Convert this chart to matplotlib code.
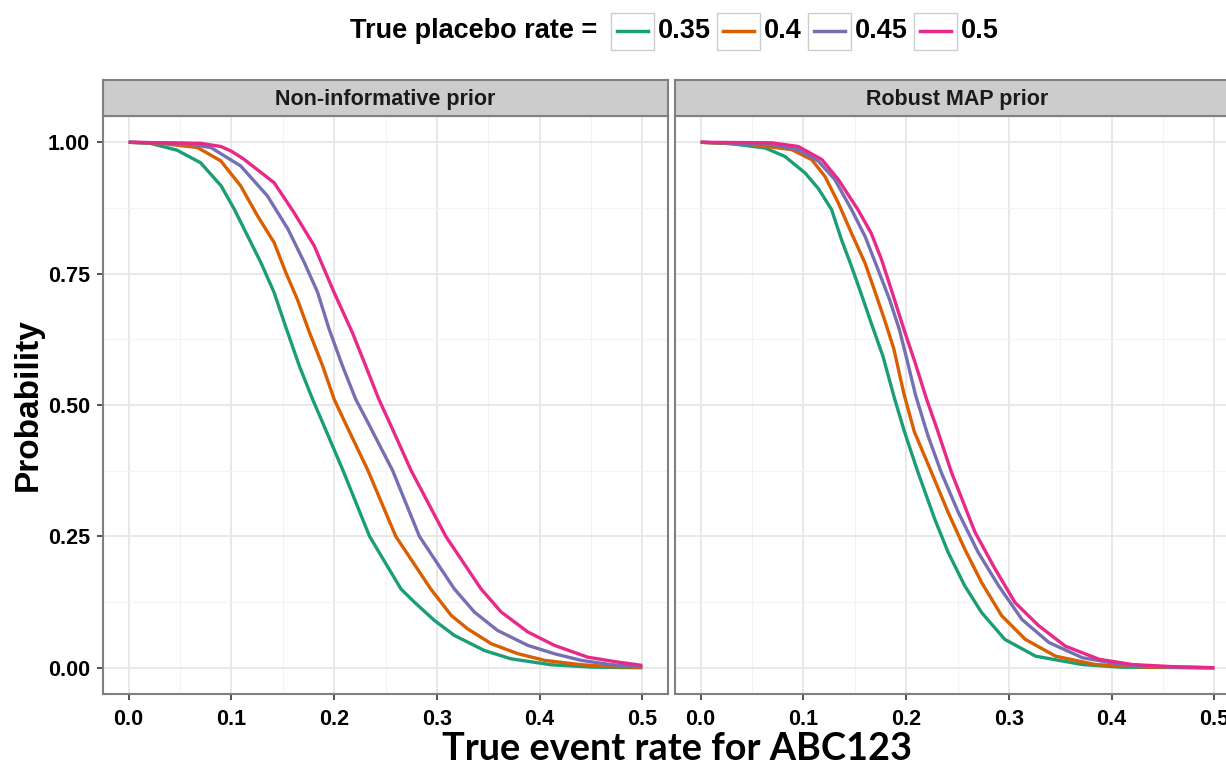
import matplotlib
matplotlib.use("Agg")
import matplotlib.pyplot as plt
from matplotlib.patches import Rectangle
from matplotlib.lines import Line2D
from matplotlib.ticker import MultipleLocator, FixedLocator

# ---------------- data ----------------
panels = ["Non-informative prior", "Robust MAP prior"]
rates = ["0.35", "0.4", "0.45", "0.5"]
colors = ["#1B9E77", "#D95F02", "#7570B3", "#E7298A"]

x_ticks = [0.0, 0.1, 0.2, 0.3, 0.4, 0.5]
y_ticks = [0.00, 0.25, 0.50, 0.75, 1.00]

# Non-informative prior
ni_x_035 = [0, 0.021, 0.047, 0.070, 0.090, 0.1027, 0.1157, 0.1287, 0.1416, 0.153, 0.166, 0.179,
            0.1887, 0.2087, 0.2345, 0.265, 0.278, 0.2976, 0.317, 0.346, 0.372, 0.411, 0.45, 0.48, 0.5]
ni_p_035 = [1.0, 0.998, 0.985, 0.961, 0.917, 0.873, 0.822, 0.771, 0.714, 0.648, 0.575, 0.511,
            0.467, 0.375, 0.25, 0.150, 0.125, 0.09, 0.0615, 0.033, 0.017, 0.0057, 0.0013, 0.0003, 0.0]
ni_x_040 = [0, 0.031, 0.067, 0.0897, 0.109, 0.1254, 0.1416, 0.153, 0.1644, 0.176, 0.1887, 0.2,
            0.211, 0.233, 0.260, 0.294, 0.314, 0.33, 0.353, 0.379, 0.405, 0.4405, 0.47, 0.5]
ni_p_040 = [1.0, 0.998, 0.99, 0.9645, 0.917, 0.86, 0.809, 0.752, 0.70, 0.638, 0.575, 0.511,
            0.465, 0.375, 0.25, 0.150, 0.0995, 0.074, 0.0456, 0.0266, 0.014, 0.0057, 0.002, 0.001]
ni_x_045 = [0, 0.054, 0.080, 0.109, 0.135, 0.155, 0.171, 0.184, 0.195, 0.208, 0.221, 0.232,
            0.257, 0.283, 0.317, 0.3365, 0.359, 0.3886, 0.4145, 0.4405, 0.47, 0.5]
ni_p_045 = [1.0, 0.998, 0.99, 0.955, 0.898, 0.835, 0.771, 0.714, 0.645, 0.575, 0.511, 0.47,
            0.375, 0.25, 0.150, 0.106, 0.071, 0.0425, 0.0266, 0.014, 0.0057, 0.002]
ni_x_050 = [0, 0.07, 0.0897, 0.1, 0.112, 0.1416, 0.161, 0.1806, 0.200, 0.2177, 0.2306, 0.2435, 0.255,
            0.275, 0.3087, 0.343, 0.3626, 0.3886, 0.4145, 0.447, 0.476, 0.5]
ni_p_050 = [1.0, 0.998, 0.992, 0.983, 0.968, 0.923, 0.866, 0.803, 0.714, 0.638, 0.575, 0.511, 0.462,
            0.375, 0.25, 0.150, 0.106, 0.068, 0.0425, 0.020, 0.0108, 0.0044]

# Robust MAP prior
rm_x_035 = [0, 0.029, 0.063, 0.082, 0.1016, 0.1145, 0.1274, 0.137, 0.1468, 0.156, 0.166, 0.1774,
            0.1886, 0.1984, 0.2114, 0.2278, 0.2408, 0.257, 0.2735, 0.296, 0.326, 0.3716, 0.41, 0.5]
rm_p_035 = [1.0, 0.9975, 0.989, 0.973, 0.9416, 0.912, 0.872, 0.815, 0.764, 0.713, 0.656, 0.593,
            0.513, 0.449, 0.3726, 0.283, 0.22, 0.156, 0.105, 0.054, 0.022, 0.006, 0.001, 0.0]
rm_x_040 = [0, 0.05, 0.0887, 0.108, 0.121, 0.134, 0.1468, 0.160, 0.169, 0.179, 0.188, 0.198,
            0.208, 0.2245, 0.2408, 0.257, 0.2735, 0.293, 0.316, 0.3454, 0.3846, 0.437, 0.5]
rm_p_040 = [1.0, 0.9956, 0.986, 0.967, 0.935, 0.8845, 0.827, 0.77, 0.7196, 0.662, 0.607, 0.52,
            0.449, 0.3726, 0.296, 0.226, 0.162, 0.099, 0.054, 0.022, 0.006, 0.001, 0.0]
rm_x_045 = [0, 0.069, 0.095, 0.1145, 0.1306, 0.1468, 0.160, 0.1726, 0.184, 0.1935, 0.2016, 0.209,
            0.221, 0.234, 0.2507, 0.270, 0.290, 0.3127, 0.339, 0.3716, 0.41, 0.4565, 0.5]
rm_p_045 = [1.0, 0.9956, 0.986, 0.964, 0.929, 0.872, 0.821, 0.758, 0.70, 0.643, 0.58, 0.52,
            0.443, 0.3726, 0.296, 0.22, 0.156, 0.092, 0.048, 0.019, 0.006, 0.001, 0.0]
rm_x_050 = [0, 0.069, 0.095, 0.118, 0.134, 0.153, 0.166, 0.176, 0.1855, 0.198, 0.208, 0.2196,
            0.231, 0.244, 0.267, 0.2866, 0.306, 0.329, 0.355, 0.388, 0.4206, 0.46, 0.5]
rm_p_050 = [1.0, 0.999, 0.992, 0.967, 0.929, 0.872, 0.827, 0.777, 0.72, 0.643, 0.585, 0.513,
            0.449, 0.3726, 0.258, 0.188, 0.124, 0.08, 0.041, 0.016, 0.006, 0.002, 0.0]

panel_data = [
    [(ni_x_035, ni_p_035), (ni_x_040, ni_p_040), (ni_x_045, ni_p_045), (ni_x_050, ni_p_050)],
    [(rm_x_035, rm_p_035), (rm_x_040, rm_p_040), (rm_x_045, rm_p_045), (rm_x_050, rm_p_050)],
]

# ---------------- figure ----------------
W, H = 1226, 768
plt.rcParams['font.family'] = ['Liberation Sans', 'DejaVu Sans']
fig = plt.figure(figsize=(W / 100, H / 100), dpi=100)

def px_box(l, t, r, b):
    return [l / W, 1 - b / H, (r - l) / W, (b - t) / H]

panel_boxes = [(103, 116, 668, 694), (675, 116, 1240, 694)]
strip_h = 36
border_col = "#808080"

for i, (l, t, r, b) in enumerate(panel_boxes):
    ax = fig.add_axes(px_box(l, t, r, b))
    ax.set_xlim(-0.025, 0.525)
    ax.set_ylim(-0.05, 1.05)
    ax.xaxis.set_major_locator(FixedLocator(x_ticks))
    ax.xaxis.set_minor_locator(MultipleLocator(0.05))
    ax.yaxis.set_major_locator(FixedLocator(y_ticks))
    ax.yaxis.set_minor_locator(MultipleLocator(0.125))
    ax.grid(which='major', color='#E6E6E6', lw=1.3)
    ax.grid(which='minor', color='#F3F3F3', lw=0.8)
    ax.set_axisbelow(True)
    for (xs, ps), c in zip(panel_data[i], colors):
        ax.plot(xs, ps, color=c, lw=2.4, solid_joinstyle='round', solid_capstyle='butt')
    for sp in ax.spines.values():
        sp.set_color(border_col)
        sp.set_linewidth(1.5)
    ax.tick_params(which='minor', length=0)
    ax.tick_params(which='major', length=4.5, width=1.2, color='#333333', pad=5,
                   labelsize=15.5)
    ax.tick_params(axis='x', pad=6.5)
    ax.set_xticklabels([f"{v:.1f}" for v in x_ticks], fontweight='bold')
    if i == 0:
        ax.set_yticklabels([f"{v:.2f}" for v in y_ticks], fontweight='bold')
    else:
        ax.tick_params(axis='y', left=False, labelleft=False)

    # strip
    sax = fig.add_axes(px_box(l, t - strip_h, r, t))
    sax.set_facecolor('#CCCCCC')
    sax.set_xticks([]); sax.set_yticks([])
    for sp in sax.spines.values():
        sp.set_color(border_col)
        sp.set_linewidth(1.5)
    sax.text(0.5, 0.47, panels[i], transform=sax.transAxes, ha='center', va='center',
             fontsize=15.5, fontweight='bold', color='#1A1A1A')

# axis titles
fig.text(28 / W, 1 - 405 / H, "Probability", rotation=90, ha='center', va='center',
         fontsize=24, fontweight='bold')
fig.text(677 / W, 1 - 749 / H, "True event rate for ABC123", ha='center', va='center',
         fontsize=27.3, fontweight='bold', family=['Lato', 'DejaVu Sans'])

# legend (manual, ggplot-like on top)
fig.text(597 / W, 1 - 31 / H, "True placebo rate =", ha='right', va='center',
         fontsize=19.5, fontweight='bold')
key_w, key_h = 43, 37
x0 = 611
for lab, c in zip(rates, colors):
    rect = Rectangle((x0 / W, 1 - 50 / H), key_w / W, key_h / H, transform=fig.transFigure,
                     facecolor='white', edgecolor='#CCCCCC', lw=1.0)
    fig.add_artist(rect)
    fig.add_artist(Line2D([(x0 + 6) / W, (x0 + key_w - 6) / W], [1 - 31 / H, 1 - 31 / H],
                          transform=fig.transFigure, color=c, lw=2.5))
    t = fig.text((x0 + key_w + 4) / W, 1 - 31 / H, lab, ha='left', va='center',
                 fontsize=19.5, fontweight='bold')
    fig.canvas.draw()
    bb = t.get_window_extent()
    x0 = bb.x1 + 6

fig.savefig("out.png", dpi=100)
